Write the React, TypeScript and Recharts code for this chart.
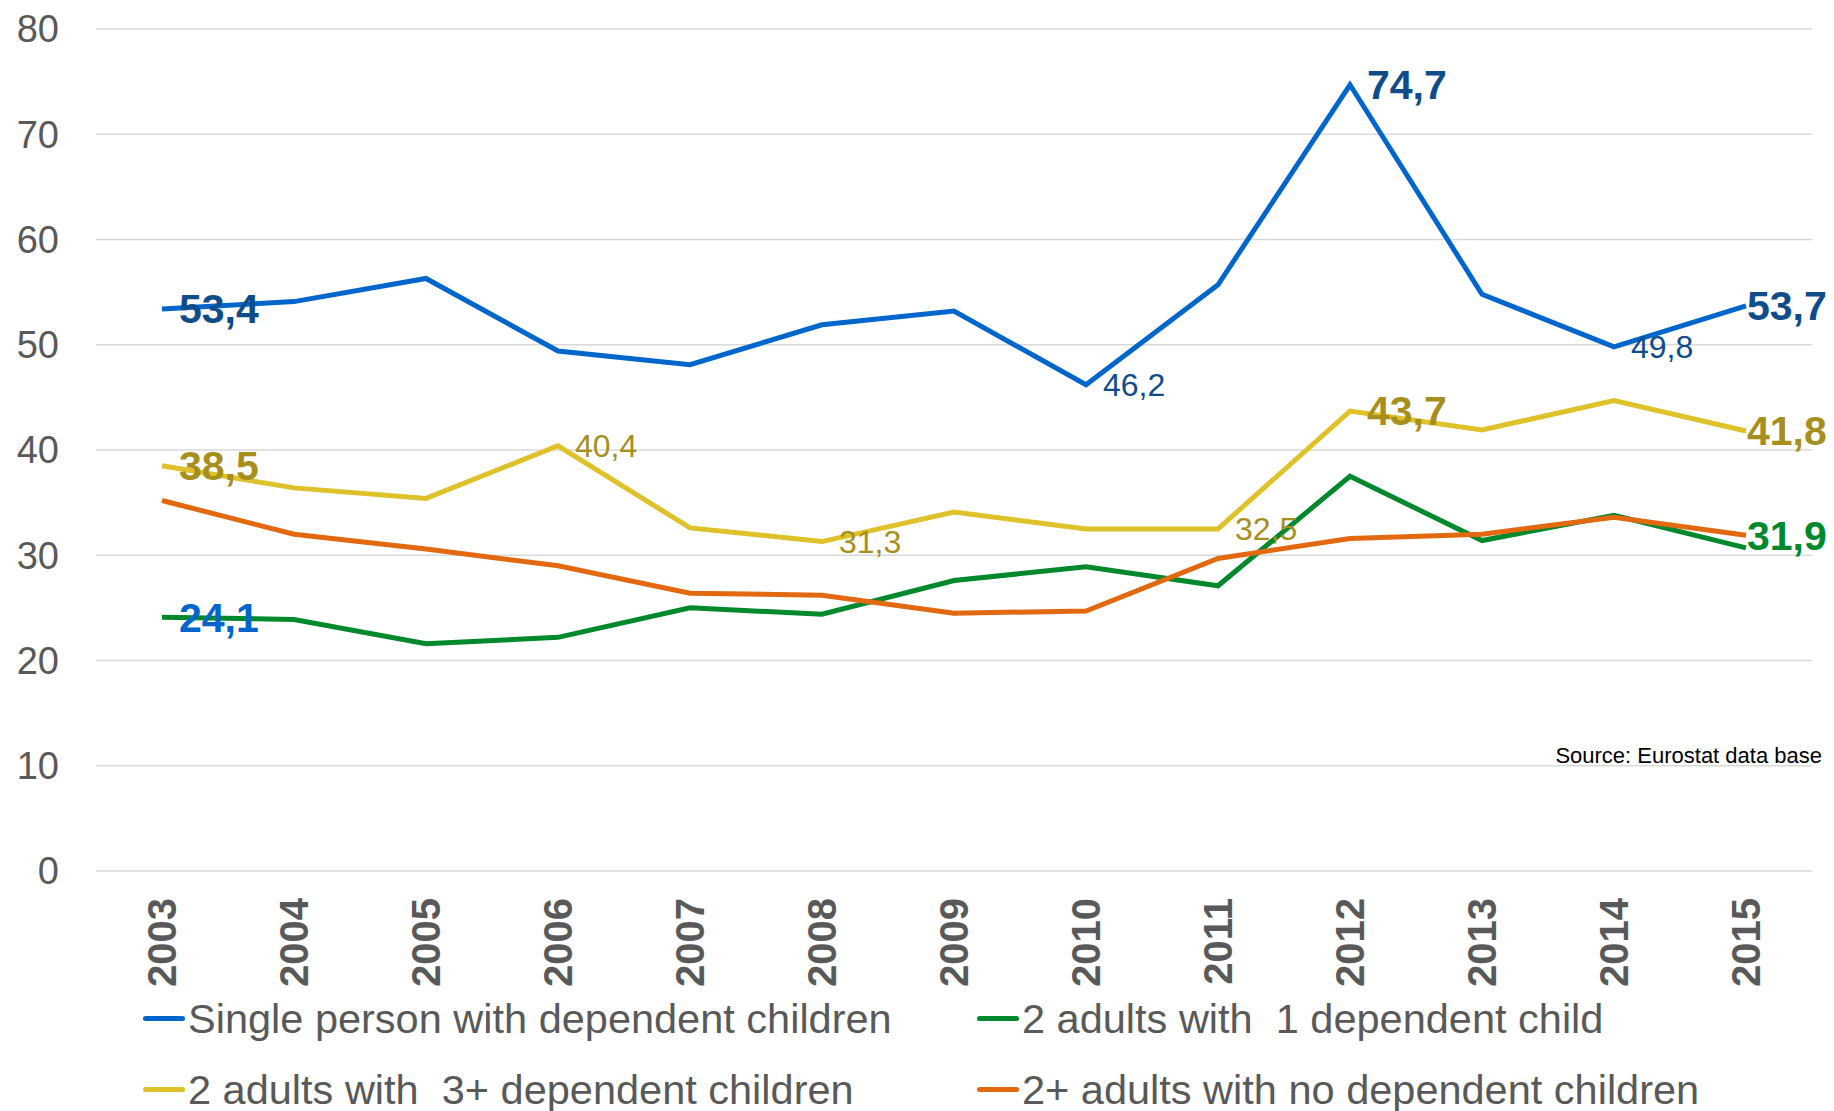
import React from 'react';
import { LineChart, Line, XAxis, YAxis, CartesianGrid, Legend, LabelList } from 'recharts';

const years = ['2003', '2004', '2005', '2006', '2007', '2008', '2009', '2010', '2011', '2012', '2013', '2014', '2015'];
const singlePerson = [53.4, 54.1, 56.3, 49.4, 48.1, 51.9, 53.2, 46.2, 55.7, 74.7, 54.8, 49.8, 53.7];
const twoAdultsOneChild = [24.1, 23.9, 21.6, 22.2, 25.0, 24.4, 27.6, 28.9, 27.1, 37.5, 31.4, 33.8, 30.7];
const twoAdultsThreePlus = [38.5, 36.4, 35.4, 40.4, 32.6, 31.3, 34.1, 32.5, 32.5, 43.7, 41.9, 44.7, 41.8];
const adultsNoChildren = [35.2, 32.0, 30.6, 29.0, 26.4, 26.2, 24.5, 24.7, 29.7, 31.6, 32.0, 33.6, 31.9];
const yTicks = [0, 10, 20, 30, 40, 50, 60, 70, 80];

const chartData = years.map((year, i) => ({
  year,
  single: singlePerson[i],
  oneChild: twoAdultsOneChild[i],
  threePlus: twoAdultsThreePlus[i],
  noChildren: adultsNoChildren[i],
}));

const FONT = '"Liberation Sans", Arial, Helvetica, sans-serif';
const GREY = '#595959';
const LAST = years.length - 1;

// which points carry a value label (bold = big, regular = small)
const series = [
  { key: 'single', name: 'Single person with dependent children', color: '#0066CC', labelColor: '#0F4C8A', bold: [0, 9, 12], regular: [7, 11] },
  { key: 'oneChild', name: '2 adults with  1 dependent child', color: '#00892C', labelColor: '#0066CC', bold: [0], regular: [] as number[] },
  { key: 'threePlus', name: '2 adults with  3+ dependent children', color: '#DFC129', labelColor: '#A68F1C', bold: [0, 9, 12], regular: [3, 5, 8] },
  { key: 'noChildren', name: '2+ adults with no dependent children', color: '#E2690F', labelColor: '#00892C', bold: [12], regular: [] as number[] },
];

const makeLabel = (s: typeof series[number]) => (props: any) => {
  const { x, y, index, value } = props;
  const isBold = s.bold.includes(index);
  if (!isBold && !s.regular.includes(index)) return <g />;
  // end labels sit tight against the line end so they stay inside the picture
  const dx = index === LAST ? 1 : 17;
  return (
    <text
      x={x + dx}
      y={y}
      dy="0.35em"
      fill={s.labelColor}
      fontSize={isBold ? 41 : 32}
      fontWeight={isBold ? 700 : 400}
      fontFamily={FONT}
    >
      {Number(value).toFixed(1).replace('.', ',')}
    </text>
  );
};

const YearTick = (props: any) => {
  const { x, y, payload } = props;
  return (
    <text
      x={x}
      y={y}
      transform={`rotate(-90, ${x}, ${y})`}
      textAnchor="end"
      dy="0.35em"
      fill={GREY}
      fontSize={40}
      fontWeight={700}
      fontFamily={FONT}
    >
      {payload.value}
    </text>
  );
};

const renderLegend = (props: any) => {
  const { payload = [] } = props;
  // keep the series order, not the alphabetical one
  const ordered = series
    .map((s) => payload.find((p: any) => p.dataKey === s.key || p.value === s.name))
    .filter(Boolean);
  return (
    <div style={{ display: 'grid', gridTemplateColumns: '834px 900px', paddingLeft: 143, fontFamily: FONT }}>
      {ordered.map((entry: any) => (
        <div key={entry.value} style={{ display: 'flex', alignItems: 'center', height: 71 }}>
          <span style={{ display: 'inline-block', width: 42, height: 5, background: entry.color, borderRadius: 3, marginRight: 3 }} />
          <span style={{ fontSize: 41.5, color: GREY, whiteSpace: 'pre', lineHeight: 1 }}>{entry.value}</span>
        </div>
      ))}
    </div>
  );
};

export default function App() {
  return (
    <div style={{ position: 'absolute', left: 0, top: 0, width: 1834, height: 1111, background: '#fff' }}>
      <LineChart width={1834} height={1111} data={chartData} margin={{ top: 29, right: 22, bottom: 0, left: 0 }}>
        <CartesianGrid vertical={false} stroke="#D9D9D9" strokeWidth={1.5} />
        <XAxis
          dataKey="year"
          interval={0}
          axisLine={false}
          tickLine={false}
          tickSize={0}
          tickMargin={27}
          height={240}
          padding={{ left: 66, right: 66 }}
          tick={<YearTick />}
        />
        <YAxis
          domain={[0, 80]}
          ticks={yTicks}
          width={96}
          axisLine={false}
          tickLine={false}
          tickSize={0}
          tickMargin={37}
          tick={{ fill: GREY, fontSize: 38, fontFamily: FONT }}
        />
        <Legend
          layout="horizontal"
          verticalAlign="middle"
          wrapperStyle={{ top: 983, left: 0, width: 1834 }}
          content={renderLegend}
        />
        {series.map((s) => (
          <Line
            key={s.key}
            type="linear"
            dataKey={s.key}
            name={s.name}
            stroke={s.color}
            strokeWidth={5}
            dot={false}
            activeDot={false}
            isAnimationActive={false}
          >
            <LabelList dataKey={s.key} content={makeLabel(s)} />
          </Line>
        ))}
      </LineChart>
      <div
        style={{
          position: 'absolute',
          right: 12,
          top: 745,
          fontSize: 22,
          lineHeight: 1,
          color: '#000',
          fontFamily: FONT,
        }}
      >
        Source: Eurostat data base
      </div>
    </div>
  );
}
